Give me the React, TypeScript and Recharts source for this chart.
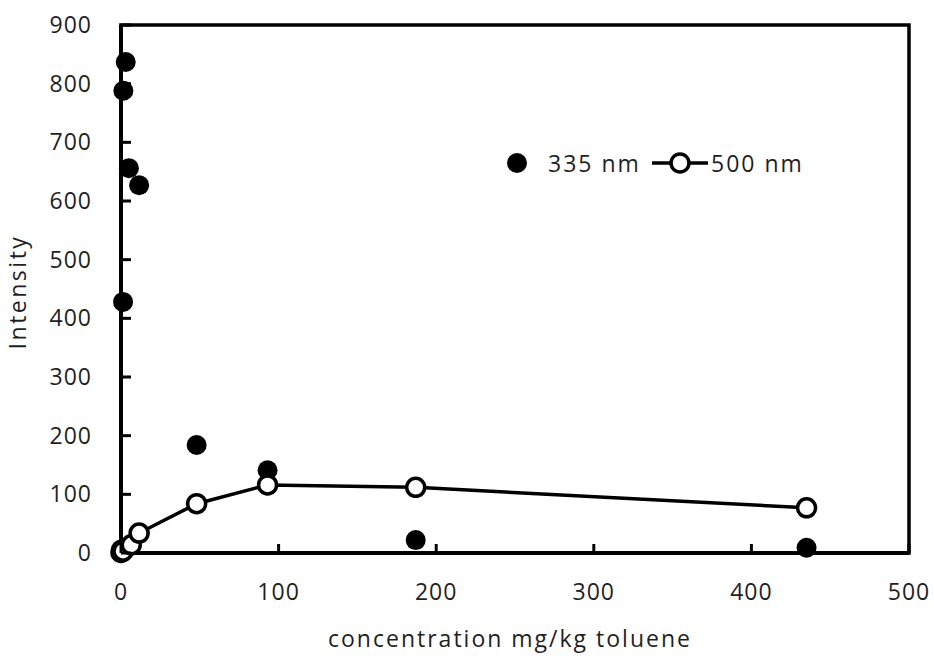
import { ScatterChart, Scatter, XAxis, YAxis, ReferenceArea, Legend } from "recharts";

// 335 nm emission (filled markers, no line)
const conc335 = [0, 1.3, 1.5, 3.0, 5.0, 11.5, 48, 93, 187, 435];
const int335 = [6, 428, 788, 837, 656, 627, 184, 141, 22, 9];

// 500 nm emission (open markers, joined)
const conc500 = [0, 1.3, 6.5, 11.5, 48, 93, 187, 435];
const int500 = [1, 3, 14, 34, 84, 116, 112, 77];

const xTicks = [0, 100, 200, 300, 400, 500];
const yTicks = [0, 100, 200, 300, 400, 500, 600, 700, 800, 900];

const FONT = "'Open Sans', sans-serif";
const FS = 23;
const TXT = "#1f1f1f";

const data335 = conc335.map((x, i) => ({ x, y: int335[i] }));
const data500 = conc500.map((x, i) => ({ x, y: int500[i] }));

const FilledDot = (props: any) => <circle cx={props.cx} cy={props.cy} r={10} fill="#000" />;
const OpenDot = (props: any) => (
  <circle cx={props.cx} cy={props.cy} r={9} fill="#fff" stroke="#000" strokeWidth={3.5} />
);

// inward tick marks, label outside
const YTick = (props: any) => {
  const { x, y, payload } = props;
  return (
    <g>
      <line x1={x + 29} x2={x + 39} y1={y} y2={y} stroke="#000" strokeWidth={3} />
      <text x={x} y={y} dy={8} textAnchor="end" fontFamily={FONT} fontSize={FS} letterSpacing={1} fill={TXT}>
        {payload.value}
      </text>
    </g>
  );
};

const XTick = (props: any) => {
  const { x, y, payload } = props;
  return (
    <g>
      <line x1={x} x2={x} y1={y - 29} y2={y - 38} stroke="#000" strokeWidth={3} />
      <text x={x} y={y} dy={18} textAnchor="middle" fontFamily={FONT} fontSize={FS} letterSpacing={1} fill={TXT}>
        {payload.value}
      </text>
    </g>
  );
};

const LegendBox = () => (
  <svg width={330} height={40}>
    <circle cx={12} cy={15} r={10} fill="#000" />
    <text x={43} y={24} fontFamily={FONT} fontSize={FS} letterSpacing={2} fill={TXT}>335 nm</text>
    <line x1={147} x2={203} y1={15} y2={15} stroke="#000" strokeWidth={3.5} />
    <circle cx={175} cy={15} r={9} fill="#fff" stroke="#000" strokeWidth={3.5} />
    <text x={206} y={24} fontFamily={FONT} fontSize={FS} letterSpacing={2} fill={TXT}>500 nm</text>
  </svg>
);

export default function App() {
  return (
    <div style={{ position: "absolute", left: 0, top: 0, width: 934, height: 656, background: "#fff" }}>
      <ScatterChart width={934} height={656} margin={{ top: 25, right: 25, bottom: 33, left: 5 }}>
        <XAxis
          type="number"
          dataKey="x"
          domain={[0, 500]}
          ticks={xTicks}
          height={70}
          tickSize={0}
          tickMargin={29}
          tick={<XTick />}
          axisLine={{ stroke: "#000", strokeWidth: 4 }}
          label={{
            content: (p: any) => (
              <text
                x={p.viewBox.x + p.viewBox.width / 2 - 5}
                y={647}
                textAnchor="middle"
                fontFamily={FONT}
                fontSize={FS}
                letterSpacing={2}
                fill={TXT}
              >
                concentration mg/kg toluene
              </text>
            ),
          }}
        />
        <YAxis
          type="number"
          dataKey="y"
          domain={[0, 900]}
          ticks={yTicks}
          width={116}
          tickSize={0}
          tickMargin={29}
          tick={<YTick />}
          axisLine={{ stroke: "#000", strokeWidth: 4 }}
          label={{
            content: (p: any) => {
              const cy = p.viewBox.y + p.viewBox.height / 2 + 3;
              return (
                <text
                  x={26}
                  y={cy}
                  transform={`rotate(-90 26 ${cy})`}
                  textAnchor="middle"
                  fontFamily={FONT}
                  fontSize={FS}
                  letterSpacing={2.5}
                  fill={TXT}
                >
                  Intensity
                </text>
              );
            },
          }}
        />
        <ReferenceArea x1={0} x2={500} y1={0} y2={900} fill="none" stroke="#000" strokeWidth={3.5} fillOpacity={0} />
        <Scatter name="335 nm" data={data335} shape={<FilledDot />} isAnimationActive={false} />
        <Scatter
          name="500 nm"
          data={data500}
          shape={<OpenDot />}
          line={{ stroke: "#000", strokeWidth: 3.5 }}
          isAnimationActive={false}
        />
        <Legend
          layout="horizontal"
          verticalAlign="middle"
          align="center"
          content={<LegendBox />}
          wrapperStyle={{ left: 505, top: 148, width: 330, height: 40 }}
        />
      </ScatterChart>
    </div>
  );
}
